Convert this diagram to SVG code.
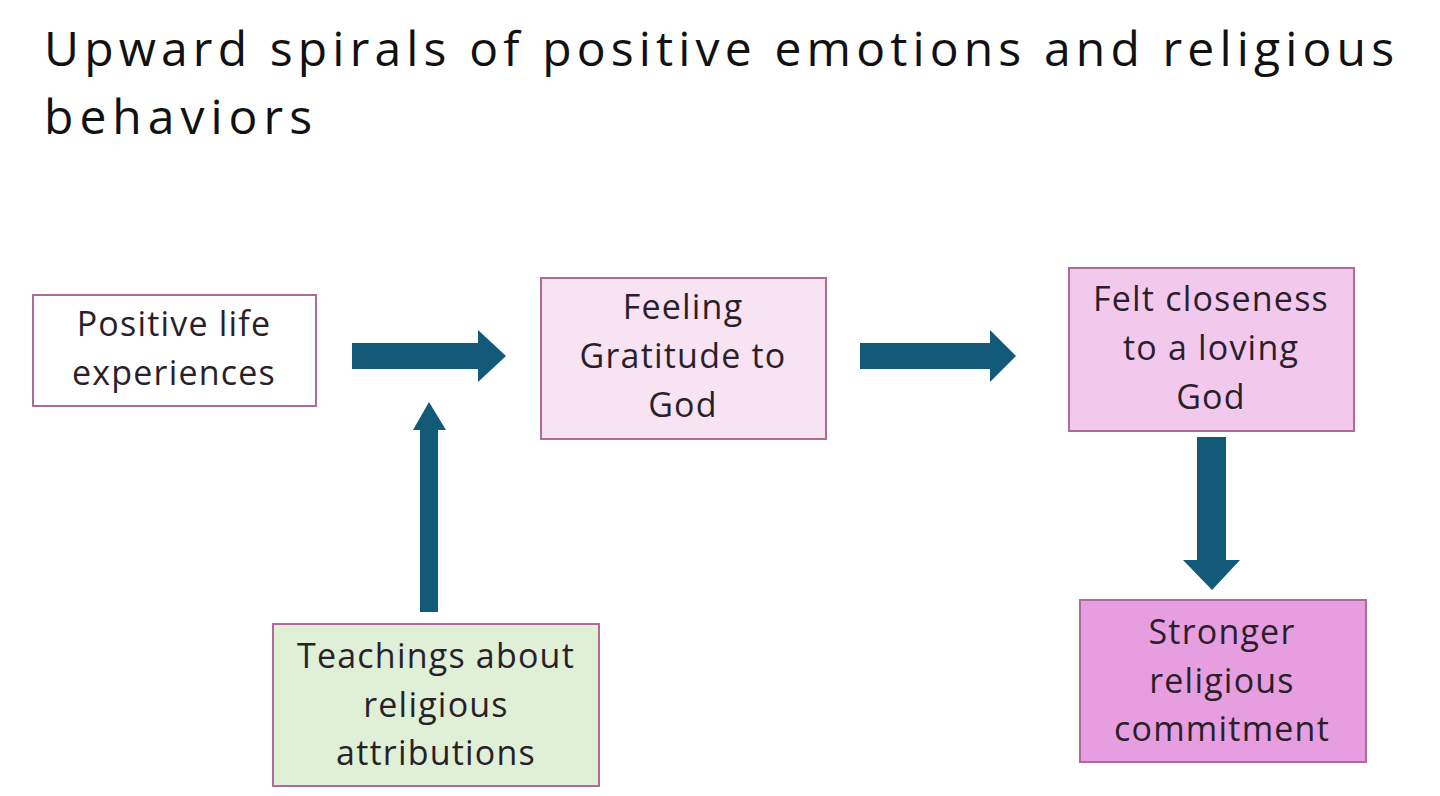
<svg xmlns="http://www.w3.org/2000/svg" width="1440" height="796" viewBox="0 0 1440 796">
<style>
text{font-family:"Open Sans","Liberation Sans",sans-serif;fill:#222}
.t{font-size:48px;fill:#111}
.n{font-size:34px;letter-spacing:1.2px;text-anchor:middle;fill:#2a1f2a}
.b{stroke:#b06a95;stroke-width:2}
.a{fill:#135a78}
</style>
<rect width="1440" height="796" fill="#fff"/>
<text class="t" x="44" y="66" textLength="1350" lengthAdjust="spacing">Upward spirals of positive emotions and religious</text>
<text class="t" x="44" y="134" textLength="268" lengthAdjust="spacing">behaviors</text>
<g id="connectors">
<polygon class="a" points="352,343 478,343 478,330 506,356 478,382 478,369 352,369"/>
<polygon class="a" points="860,343 990,343 990,330 1016,356 990,382 990,369 860,369"/>
<polygon class="a" points="420,612 420,430 413,430 429,402 446,430 438,430 438,612"/>
<polygon class="a" points="1197,437 1226,437 1226,560 1240,560 1212,590 1183,560 1197,560"/>
</g>
<g id="positive"><rect class="b" x="33" y="295" width="283" height="111" fill="#fff"/>
<text class="n" x="174" y="336">Positive life</text><text class="n" x="174" y="385">experiences</text></g>
<g id="gratitude"><rect class="b" x="541" y="278" width="285" height="161" fill="#f8e3f3"/>
<text class="n" x="683" y="319">Feeling</text><text class="n" x="683" y="368">Gratitude to</text><text class="n" x="683" y="417">God</text></g>
<g id="closeness"><rect class="b" x="1069" y="268" width="285" height="163" fill="#f2c9ec"/>
<text class="n" x="1211" y="311">Felt closeness</text><text class="n" x="1211" y="360">to a loving</text><text class="n" x="1211" y="409">God</text></g>
<g id="commitment"><rect class="b" x="1080" y="600" width="286" height="162" fill="#e79ee0"/>
<text class="n" x="1222" y="644">Stronger</text><text class="n" x="1222" y="693">religious</text><text class="n" x="1222" y="741">commitment</text></g>
<g id="teachings"><rect class="b" x="273" y="624" width="326" height="162" fill="#dff0d6"/>
<text class="n" x="436" y="668">Teachings about</text><text class="n" x="436" y="717">religious</text><text class="n" x="436" y="765">attributions</text></g>
</svg>
